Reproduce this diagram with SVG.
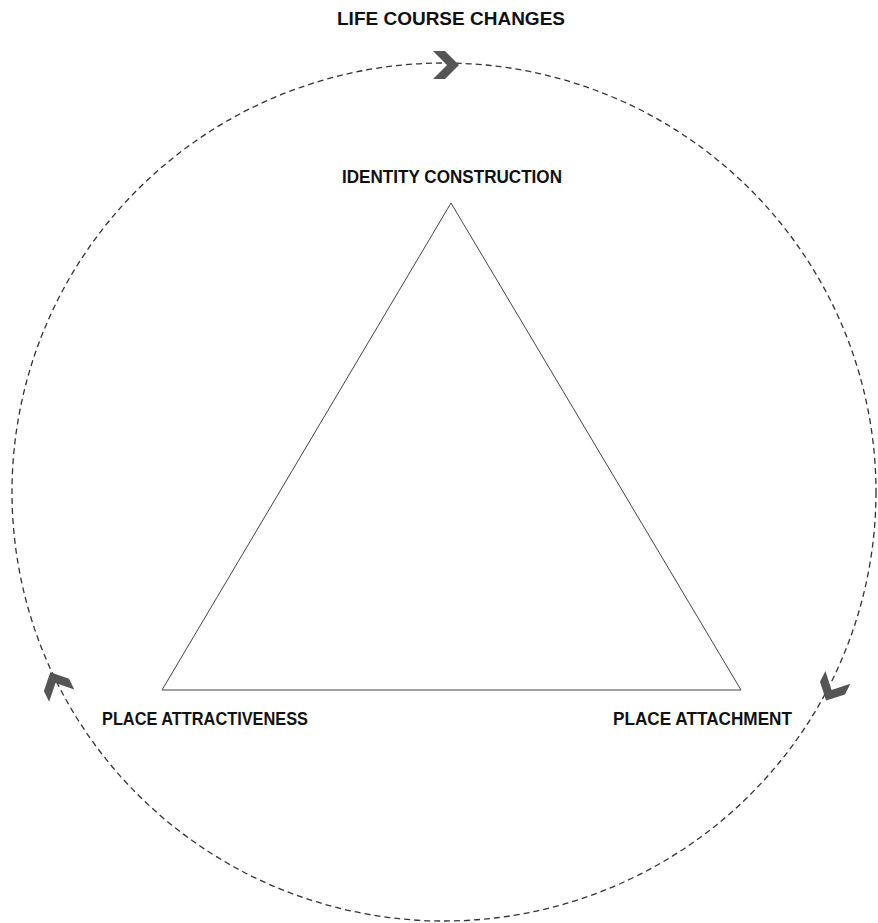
<svg xmlns="http://www.w3.org/2000/svg" width="878" height="923" viewBox="0 0 878 923">
<style>
.lbl{font-family:"Liberation Sans",Arial,sans-serif;font-weight:bold;font-size:18px;fill:#111;text-anchor:middle}
.cycle{fill:none;stroke:#333;stroke-width:1.3;stroke-dasharray:6 4}
.tri{fill:none;stroke:#444;stroke-width:1}
.chev{fill:#555}
</style>
<defs>
<path id="chevron" d="M-13,-14 L-1,-14 L13,0 L-1,14 L-13,14 L1,0 Z"/>
</defs>
<rect width="878" height="923" fill="#fff"/>
<g id="connectors">
<ellipse class="cycle" cx="444" cy="492" rx="432" ry="429"/>
<use href="#chevron" class="chev" transform="translate(446,65)"/>
<use href="#chevron" class="chev" transform="translate(832,689) rotate(117)"/>
<use href="#chevron" class="chev" transform="translate(56,684) rotate(-116)"/>
</g>
<g id="triangle">
<polygon class="tri" points="451,203 741,690 162,690"/>
</g>
<g id="life-course-changes">
<text class="lbl" x="451" y="25" textLength="228" lengthAdjust="spacingAndGlyphs">LIFE COURSE CHANGES</text>
</g>
<g id="identity-construction">
<text class="lbl" x="452" y="183" textLength="220" lengthAdjust="spacingAndGlyphs">IDENTITY CONSTRUCTION</text>
</g>
<g id="place-attractiveness">
<text class="lbl" x="205" y="725" textLength="206" lengthAdjust="spacingAndGlyphs">PLACE ATTRACTIVENESS</text>
</g>
<g id="place-attachment">
<text class="lbl" x="702.5" y="725" textLength="179" lengthAdjust="spacingAndGlyphs">PLACE ATTACHMENT</text>
</g>
</svg>
